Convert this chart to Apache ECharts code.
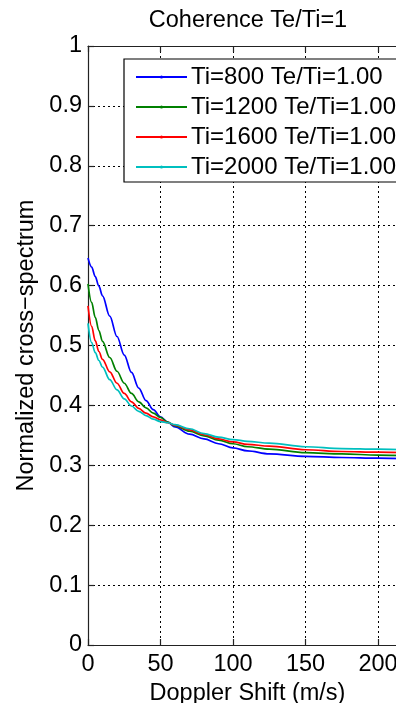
<!DOCTYPE html>
<html>
<head>
<meta charset="utf-8">
<script src="https://cdn.jsdelivr.net/npm/echarts@6/dist/echarts.min.js"></script>
<style>
html,body{margin:0;padding:0;overflow:hidden;background:#fff;width:396px;height:703px;}
#c{width:440px;height:703px;}
</style>
</head>
<body>
<div id="c"></div>
<script>
// ---- data ----
const titleText = 'Coherence Te/Ti=1';
const xAxisTitle = 'Doppler Shift (m/s)';
const yAxisTitle = 'Normalized cross\u2212spectrum';
const seriesNames = ['Ti=800 Te/Ti=1.00', 'Ti=1200 Te/Ti=1.00', 'Ti=1600 Te/Ti=1.00', 'Ti=2000 Te/Ti=1.00'];
const seriesColors = ['#0000ff', '#008000', '#ff0000', '#00bfbf'];
const dopplerShift = [0, 2.5, 5, 7.5, 10, 15, 20, 25, 30, 35, 40, 45, 50, 55, 60, 70, 80, 90, 100, 110, 125, 150, 175, 200, 220];
const ti800  = [0.646, 0.631, 0.615, 0.599, 0.583, 0.549, 0.515, 0.484, 0.455, 0.429, 0.408, 0.393, 0.381, 0.372, 0.364, 0.352, 0.344, 0.336, 0.329, 0.324, 0.319, 0.315, 0.313, 0.312, 0.311];
const ti1200 = [0.603, 0.572, 0.547, 0.525, 0.507, 0.480, 0.457, 0.437, 0.420, 0.406, 0.396, 0.387, 0.380, 0.372, 0.366, 0.357, 0.349, 0.342, 0.336, 0.331, 0.327, 0.321, 0.319, 0.317, 0.316];
const ti1600 = [0.566, 0.532, 0.508, 0.490, 0.477, 0.456, 0.437, 0.420, 0.406, 0.395, 0.387, 0.381, 0.376, 0.371, 0.367, 0.359, 0.351, 0.344, 0.339, 0.335, 0.332, 0.326, 0.323, 0.322, 0.321];
const ti2000 = [0.537, 0.505, 0.488, 0.475, 0.464, 0.443, 0.426, 0.411, 0.399, 0.390, 0.383, 0.377, 0.373, 0.371, 0.368, 0.361, 0.353, 0.347, 0.343, 0.340, 0.337, 0.331, 0.328, 0.327, 0.326];
const xMin = 0, xMax = 220, xStep = 50;
const yMin = 0, yMax = 1, yStep = 0.1;

// ---- chart ----
const FONT = "'Liberation Sans', Arial, Helvetica, sans-serif";
const chart = echarts.init(document.getElementById('c'), null, {renderer: 'canvas'});
const allSeries = [ti800, ti1200, ti1600, ti2000];

const axisLineStyle = {color: '#222', width: 1.2};
const gridStyle = {color: '#000', width: 1, type: [2, 3]};

const option = {
  animation: false,
  backgroundColor: '#fff',
  textStyle: {fontFamily: FONT},
  title: {
    text: titleText,
    left: 248, top: 9, padding: 0,
    textAlign: 'center',
    textStyle: {fontFamily: FONT, fontSize: 23.5, fontWeight: 'normal', color: '#000'}
  },
  grid: {left: 88, top: 46, width: 319, height: 599, containLabel: false, outerBoundsMode: 'none'},
  legend: {
    orient: 'vertical',
    left: 124, top: 59,
    padding: [6, 20, 3, 11],
    itemGap: 6,
    itemWidth: 51, itemHeight: 4,
    backgroundColor: '#fff',
    borderColor: '#000', borderWidth: 1.2, borderRadius: 0,
    textStyle: {fontFamily: FONT, fontSize: 24, color: '#000', lineHeight: 23, padding: [0, 0, 0, -1]},
    data: seriesNames
  },
  xAxis: [{
    type: 'value', min: xMin, max: xMax, interval: xStep,
    name: xAxisTitle, nameLocation: 'middle', nameGap: 33,
    nameTextStyle: {fontFamily: FONT, fontSize: 23.5, color: '#000'},
    axisLine: {show: true, onZero: false, lineStyle: axisLineStyle},
    axisTick: {show: true, inside: true, length: 6, lineStyle: axisLineStyle},
    axisLabel: {fontFamily: FONT, fontSize: 23.5, color: '#000', margin: 8,
      formatter: v => (v % xStep === 0 ? String(v) : '')},
    splitLine: {show: true, lineStyle: gridStyle}
  }, {
    type: 'value', min: xMin, max: xMax, interval: xStep, position: 'top',
    axisLine: {show: true, onZero: false, lineStyle: axisLineStyle},
    axisTick: {show: true, inside: true, length: 6, lineStyle: axisLineStyle},
    axisLabel: {show: false}, splitLine: {show: false}
  }],
  yAxis: [{
    type: 'value', min: yMin, max: yMax, interval: yStep,
    name: yAxisTitle, nameLocation: 'middle', nameGap: 47,
    nameTextStyle: {fontFamily: FONT, fontSize: 23.5, color: '#000'},
    axisLine: {show: true, onZero: false, lineStyle: axisLineStyle},
    axisTick: {show: true, inside: true, length: 6, lineStyle: axisLineStyle},
    axisLabel: {fontFamily: FONT, fontSize: 23.5, color: '#000', margin: 6,
      formatter: v => String(Math.round(v * 10) / 10)},
    splitLine: {show: true, lineStyle: gridStyle}
  }, {
    type: 'value', min: yMin, max: yMax, interval: yStep, position: 'right',
    axisLine: {show: true, onZero: false, lineStyle: axisLineStyle},
    axisTick: {show: true, inside: true, length: 6, lineStyle: axisLineStyle},
    axisLabel: {show: false}, splitLine: {show: false}
  }],
  series: seriesNames.map((name, i) => ({
    name: name,
    type: 'line',
    xAxisIndex: 0, yAxisIndex: 0,
    data: dopplerShift.map((x, j) => [x, allSeries[i][j]]),
    smooth: 0.35, smoothMonotone: 'x',
    showSymbol: false, symbol: 'circle', symbolSize: 3,
    color: seriesColors[i],
    itemStyle: {color: seriesColors[i]},
    lineStyle: {color: seriesColors[i], width: 1.7},
    emphasis: {disabled: true},
    z: 3
  }))
};
chart.setOption(option);
</script>
</body>
</html>
